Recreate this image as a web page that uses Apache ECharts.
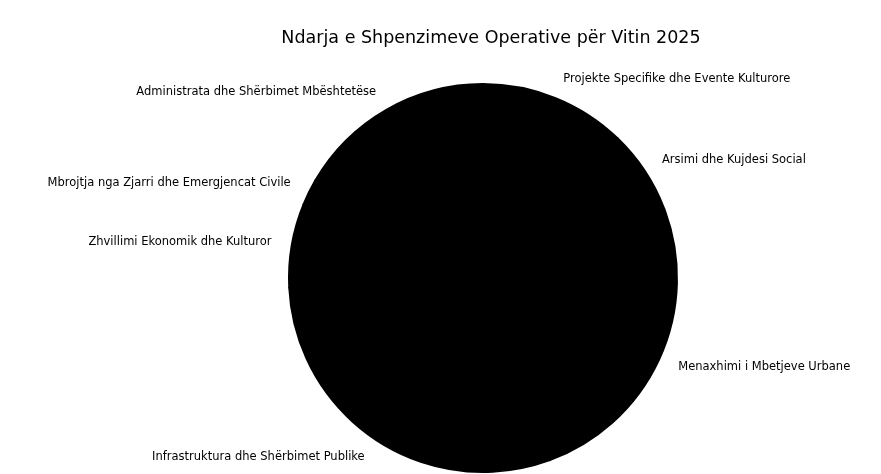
<!DOCTYPE html>
<html>
<head>
<meta charset="utf-8">
<script src="https://cdn.jsdelivr.net/npm/echarts@6/dist/echarts.min.js"></script>
<style>
  html, body { margin: 0; padding: 0; background: #fff; }
  .chart { width: 881px; height: 474px; }
</style>
</head>
<body>
<div class="chart"></div>
<script>
// te dhenat (perqindje e vleresuar nga fotoja)
var kategorite = [
  'Administrata dhe Shërbimet Mbështetëse',
  'Mbrojtja nga Zjarri dhe Emergjencat Civile',
  'Zhvillimi Ekonomik dhe Kulturor',
  'Infrastruktura dhe Shërbimet Publike',
  'Menaxhimi i Mbetjeve Urbane',
  'Arsimi dhe Kujdesi Social',
  'Projekte Specifike dhe Evente Kulturore'
];
var vlerat = [16.6, 2.2, 7.0, 29.8, 25.2, 7.0, 12.2];

var myChart = echarts.init(document.querySelector('.chart'));

var R = 194;

var option = {
  animation: false,
  backgroundColor: '#fff',
  title: {
    text: 'Ndarja e Shpenzimeve Operative për Vitin 2025',
    left: 486,
    top: 24,
    textAlign: 'center',
    textStyle: {
      fontFamily: 'DejaVu Sans',
      fontSize: 17.5,
      fontWeight: 'normal',
      color: '#000'
    }
  },
  series: [{
    type: 'pie',
    center: [483, 278],
    radius: R,
    startAngle: 90,
    clockwise: false,
    avoidLabelOverlap: false,
    silent: true,
    // kufiri i zi qe te mos duken vijat midis feteve
    itemStyle: { color: '#000', borderColor: '#000', borderWidth: 2, borderJoin: 'round' },
    emphasis: { disabled: true },
    label: {
      show: true,
      position: 'outside',
      distanceToLabelLine: 0,
      fontFamily: 'DejaVu Sans',
      fontSize: 11.5,
      color: '#000'
    },
    labelLine: { show: false, length: 1 + (R + 1) * 0.1, length2: 0 },
    data: kategorite.map(function (k, i) {
      return { name: k, value: vlerat[i] };
    })
  }]
};

myChart.setOption(option);
</script>
</body>
</html>
